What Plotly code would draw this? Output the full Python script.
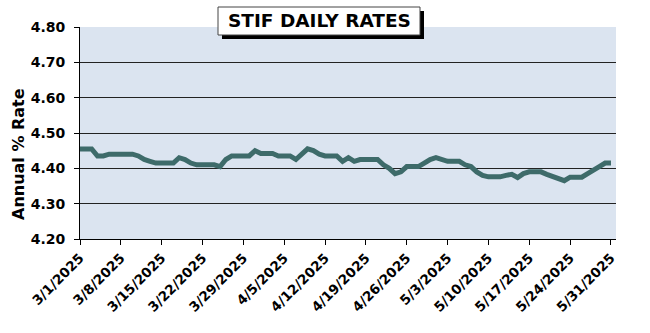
import datetime as dt
import plotly.graph_objects as go

# Daily STIF rates, one value per calendar day from 3/1/2025 to 5/31/2025
start = dt.date(2025, 3, 1)
rates = [
    4.455, 4.455, 4.455, 4.435, 4.435, 4.44, 4.44, 4.44, 4.44, 4.44,
    4.435, 4.425, 4.42, 4.415, 4.415, 4.415, 4.415, 4.43, 4.425, 4.415,
    4.41, 4.41, 4.41, 4.41, 4.405, 4.425, 4.435, 4.435, 4.435, 4.435,
    4.45, 4.442, 4.442, 4.442, 4.435, 4.435, 4.435, 4.425, 4.44, 4.455,
    4.45, 4.44, 4.435, 4.435, 4.435, 4.42, 4.43, 4.42, 4.425, 4.425,
    4.425, 4.425, 4.41, 4.40, 4.385, 4.39, 4.405, 4.405, 4.405, 4.415,
    4.425, 4.43, 4.425, 4.42, 4.42, 4.42, 4.41, 4.405, 4.39, 4.38,
    4.376, 4.376, 4.376, 4.38, 4.383, 4.374, 4.385, 4.39, 4.39, 4.39,
    4.383, 4.376, 4.37, 4.365, 4.375, 4.375, 4.375, 4.385, 4.397, 4.405,
    4.415, 4.415,
]
dates = [start + dt.timedelta(days=i) for i in range(len(rates))]

title_text = "STIF DAILY RATES"
y_title = "Annual % Rate"
y_ticks = [4.20, 4.30, 4.40, 4.50, 4.60, 4.70, 4.80]

FONT = "DejaVu Sans, Verdana, sans-serif"
W, H = 650, 333
L, R, T, B = 80, 34, 27, 94
pw, ph = W - L - R, H - T - B


def px_x(px):
    return (px - L) / pw


def px_y(py):
    return (H - B - py) / ph


fig = go.Figure()
fig.add_trace(go.Scatter(
    x=dates, y=rates, mode="lines",
    line=dict(color="#3e6b6a", width=5),
    hoverinfo="skip", showlegend=False,
))

# Title box with a drop shadow
shapes = [
    dict(type="rect", xref="paper", yref="paper",
         x0=px_x(222), x1=px_x(424), y0=px_y(39), y1=px_y(11),
         fillcolor="black", line=dict(width=0), layer="above"),
    dict(type="rect", xref="paper", yref="paper",
         x0=px_x(218), x1=px_x(420), y0=px_y(35), y1=px_y(7),
         fillcolor="white", line=dict(color="#444", width=1), layer="above"),
]

annotations = [
    dict(text=f"<b>{title_text}</b>", xref="paper", yref="paper",
         x=px_x(319), y=px_y(21), xanchor="center", yanchor="middle",
         showarrow=False, font=dict(family=FONT, size=18.5, color="black")),
    dict(text=f"<b>{y_title}</b>", xref="paper", yref="paper",
         x=px_x(18), y=px_y(154), xanchor="center", yanchor="middle",
         textangle=-90, showarrow=False,
         font=dict(family=FONT, size=16, color="black")),
]

fig.update_layout(
    width=W, height=H,
    margin=dict(l=L, r=R, t=T, b=B, pad=0),
    paper_bgcolor="white",
    plot_bgcolor="#dbe4f0",
    shapes=shapes,
    annotations=annotations,
    font=dict(family=FONT, color="black"),
)

fig.update_xaxes(
    type="date",
    range=[dt.datetime(2025, 3, 1), dt.datetime(2025, 5, 31, 20, 40)],
    tick0="2025-03-01", dtick=7 * 86400000,
    tickformat="%-m/%-d/%Y", tickangle=-45,
    tickfont=dict(family=FONT, size=13.5, color="black", weight="bold"),
    ticks="outside", ticklen=5, tickcolor="black", tickwidth=1,
    showline=True, linecolor="black", linewidth=1,
    showgrid=False, zeroline=False,
)

fig.update_yaxes(
    range=[4.20, 4.80],
    tickvals=y_ticks, ticktext=[f"{v:.2f}" for v in y_ticks],
    tickfont=dict(family=FONT, size=14, color="black", weight="bold"),
    ticks="outside", ticklen=5, tickcolor="black", tickwidth=1,
    ticklabelstandoff=6,
    showline=True, linecolor="black", linewidth=1,
    showgrid=True, gridcolor="#222", gridwidth=1,
    zeroline=False,
)

fig.write_html("out.html")
